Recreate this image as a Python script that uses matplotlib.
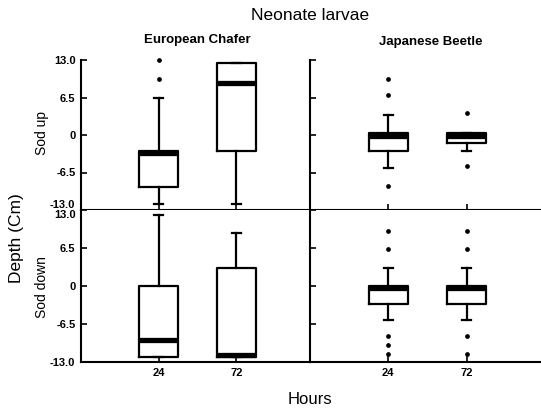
import matplotlib
matplotlib.use("Agg")
import matplotlib.pyplot as plt

# panels in order: (row, col) -> (Sod up/down, species)
species = ["European Chafer", "Japanese Beetle"]
sod = ["Sod up", "Sod down"]
hours = ["24", "72"]
y_ticks = [13.0, 6.5, 0, -6.5, -13.0]
y_tick_labels = ["13.0", "6.5", "0", "-6.5", "-13.0"]

# box stats, order: EC up, JB up, EC down, JB down (each: 24 h, 72 h)
whis_hi = [[6.5, 12.5], [3.4, 0.3], [12.1, 9.0], [3.0, 3.0]]
q3 = [[-2.8, 12.5], [0.3, 0.3], [0.0, 3.0], [0.0, 0.0]]
median = [[-3.2, 9.1], [-0.1, -0.1], [-9.2, -11.8], [-0.3, -0.3]]
q1 = [[-9.0, -2.7], [-2.7, -1.3], [-12.2, -12.2], [-3.1, -3.1]]
whis_lo = [[-12.0, -12.0], [-5.8, -2.7], [-12.2, -12.2], [-5.9, -5.9]]
outliers = [
    [[13.0, 9.7], []],
    [[9.75, 6.9, -8.9], [3.9, -5.4]],
    [[], []],
    [[9.4, 6.4, -8.5, -10.1, -11.7], [9.4, 6.4, -8.5, -11.7]],
]

plt.rcParams["font.family"] = ["Liberation Sans", "DejaVu Sans"]

W, H = 541, 412
fig = plt.figure(figsize=(W / 100, H / 100), dpi=100)

xs = [81, 310, 541]
ys = [60, 210, 362]

k = 0
for r in range(2):
    for c in range(2):
        ax = fig.add_axes([xs[c] / W, 1 - ys[r + 1] / H,
                           (xs[c + 1] - xs[c]) / W, (ys[r + 1] - ys[r]) / H])
        stats = []
        for i in range(2):
            stats.append(dict(whislo=whis_lo[k][i], q1=q1[k][i], med=median[k][i],
                              q3=q3[k][i], whishi=whis_hi[k][i], fliers=outliers[k][i]))
        parts = ax.bxp(stats, positions=[1, 2], widths=0.5, capwidths=0.11,
                       boxprops=dict(color="black", lw=1.6),
                       whiskerprops=dict(color="black", lw=1.6),
                       capprops=dict(color="black", lw=1.6),
                       medianprops=dict(color="black", lw=3.8, solid_capstyle="butt"),
                       flierprops=dict(marker="o", markersize=2.4, markerfacecolor="black",
                                       markeredgecolor="black"))
        for fl in parts["fliers"]:
            fl.set_clip_on(False)
        ax.set_xlim(0, 2.95)
        ax.set_ylim(-13, 13)
        for s in ["top", "right"]:
            ax.spines[s].set_visible(False)
        for s in ["left", "bottom"]:
            ax.spines[s].set_linewidth(1.5)
        ax.set_yticks(y_ticks)
        ax.set_xticks([1, 2])
        ax.tick_params(direction="in", length=4, width=1.2, labelsize=8, pad=4)
        if c == 0:
            ax.set_yticklabels(y_tick_labels, fontweight="bold")
            if r == 0:
                ax.get_yticklabels()[-1].set_va("bottom")
            else:
                ax.get_yticklabels()[0].set_va("top")
        else:
            ax.set_yticklabels([])
        if r == 1:
            ax.set_xticklabels(hours, fontweight="bold")
        else:
            ax.set_xticklabels([])
        k += 1

fig.text(310 / W, 1 - 15 / H, "Neonate larvae", ha="center", va="center", fontsize=12.5)
fig.text(197 / W, 1 - 40 / H, species[0], ha="center", va="center", fontsize=9.5,
         fontweight="bold")
fig.text(431 / W, 1 - 42 / H, species[1], ha="center", va="center", fontsize=9.5,
         fontweight="bold")
fig.text(310 / W, 1 - 400 / H, "Hours", ha="center", va="center", fontsize=12)
fig.text(17 / W, 1 - 238 / H, "Depth (Cm)", ha="center", va="center",
         rotation=90, fontsize=12.5)
fig.text(42 / W, 1 - 133 / H, sod[0], ha="center", va="center", rotation=90, fontsize=10)
fig.text(42 / W, 1 - 287 / H, sod[1], ha="center", va="center", rotation=90, fontsize=10)

fig.savefig("out.png", dpi=100)
